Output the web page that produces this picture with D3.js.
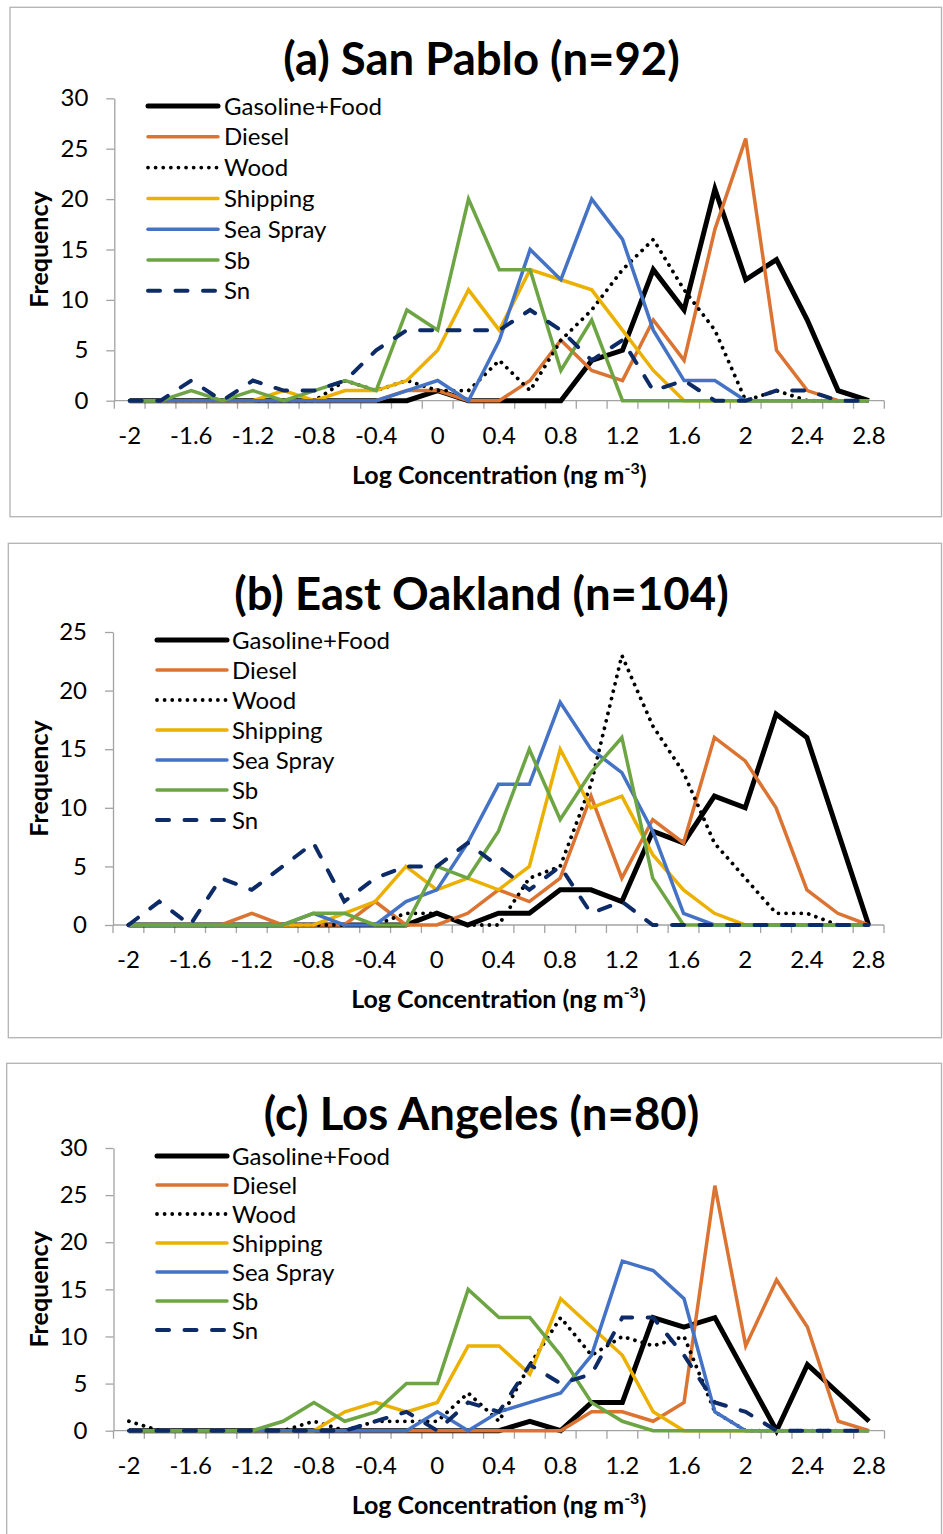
<!DOCTYPE html>
<html><head><meta charset="utf-8">
<script src="https://cdn.jsdelivr.net/npm/d3@7"></script>
<style>
body{margin:0;background:#fff}
svg{display:block}
text{font-family:Lato,"Open Sans",sans-serif;fill:#000}
</style>
</head><body>
<svg id="chart" width="943" height="1534"></svg>
<script>
// ---------- data ----------
const categories = ["-2","-1.8","-1.6","-1.4","-1.2","-1","-0.8","-0.6","-0.4","-0.2","0","0.2","0.4","0.6","0.8","1","1.2","1.4","1.6","1.8","2","2.2","2.4","2.6","2.8"];
const tickLabels = ["-2","-1.6","-1.2","-0.8","-0.4","0","0.4","0.8","1.2","1.6","2","2.4","2.8"];
const seriesNames = ["Gasoline+Food","Diesel","Wood","Shipping","Sea Spray","Sb","Sn"];
const panelTitles = ["(a) San Pablo (n=92)","(b) East Oakland (n=104)","(c) Los Angeles (n=80)"];
const yMaxes = [30, 25, 30];
const yTickStep = 5;

// (a) San Pablo
const sanPabloGasoline = [0,0,0,0,0,0,0,0,0,0,1,0,0,0,0,4,5,13,9,21,12,14,8,1,0];
const sanPabloDiesel   = [0,0,0,0,0,0,0,0,0,1,1,0,0,2,6,3,2,8,4,17,26,5,1,0,0];
const sanPabloWood     = [0,0,0,0,0,0,0,2,1,2,1,1,4,1,6,9,13,16,11,7,0,1,0,0,0];
const sanPabloShipping = [0,0,0,0,0,1,0,1,1,2,5,11,7,13,12,11,7,3,0,0,0,0,0,0,0];
const sanPabloSeaSpray = [0,0,0,0,0,0,0,0,0,1,2,0,6,15,12,20,16,7,2,2,0,0,0,0,0];
const sanPabloSb       = [0,0,1,0,1,0,1,2,1,9,7,20,13,13,3,8,0,0,0,0,0,0,0,0,0];
const sanPabloSn       = [0,0,2,0,2,1,1,2,5,7,7,7,7,9,7,4,6,1,2,0,0,1,1,0,0];

// (b) East Oakland
const eastOaklandGasoline = [0,0,0,0,0,0,0,0,0,0,1,0,1,1,3,3,2,8,7,11,10,18,16,8,0];
const eastOaklandDiesel   = [0,0,0,0,1,0,0,0,2,0,0,1,3,2,4,11,4,9,7,16,14,10,3,1,0];
const eastOaklandWood     = [0,0,0,0,0,0,0,0,0,1,1,0,0,4,5,12,23,17,13,7,4,1,1,0,0];
const eastOaklandShipping = [0,0,0,0,0,0,0,1,2,5,3,4,3,5,15,10,11,6,3,1,0,0,0,0,0];
const eastOaklandSeaSpray = [0,0,0,0,0,0,1,0,0,2,3,7,12,12,19,15,13,8,1,0,0,0,0,0,0];
const eastOaklandSb       = [0,0,0,0,0,0,1,1,0,0,5,4,8,15,9,13,16,4,0,0,0,0,0,0,0];
const eastOaklandSn       = [0,2,0,4,3,5,7,2,4,5,5,7,5,3,5,1,2,0,0,0,0,0,0,0,0];

// (c) Los Angeles
const losAngelesGasoline = [0,0,0,0,0,0,0,0,0,0,0,0,0,1,0,3,3,12,11,12,6,0,7,4,1];
const losAngelesDiesel   = [0,0,0,0,0,0,0,0,0,0,0,0,0,0,0,2,2,1,3,26,9,16,11,1,0];
const losAngelesWood     = [1,0,0,0,0,0,1,0,1,1,1,4,1,7,12,8,10,9,10,2,0,0,0,0,0];
const losAngelesShipping = [0,0,0,0,0,0,0,2,3,2,3,9,9,6,14,11,8,2,0,0,0,0,0,0,0];
const losAngelesSeaSpray = [0,0,0,0,0,0,0,0,0,0,2,0,2,3,4,8,18,17,14,2,0,0,0,0,0];
const losAngelesSb       = [0,0,0,0,0,1,3,1,2,5,5,15,12,12,8,3,1,0,0,0,0,0,0,0,0];
const losAngelesSn       = [0,0,0,0,0,0,0,0,1,2,0,3,2,7,5,6,12,12,8,3,2,0,0,0,0];

const panelSeries = [
  [sanPabloGasoline,sanPabloDiesel,sanPabloWood,sanPabloShipping,sanPabloSeaSpray,sanPabloSb,sanPabloSn],
  [eastOaklandGasoline,eastOaklandDiesel,eastOaklandWood,eastOaklandShipping,eastOaklandSeaSpray,eastOaklandSb,eastOaklandSn],
  [losAngelesGasoline,losAngelesDiesel,losAngelesWood,losAngelesShipping,losAngelesSeaSpray,losAngelesSb,losAngelesSn]
];

// ---------- styles & layout ----------
const styles = [
  {color:"#000000", width:5,   dash:null},
  {color:"#DB7432", width:3.5, dash:null},
  {color:"#000000", width:3.8, dash:"0.01 7.6", cap:"round"},
  {color:"#EBB000", width:3.5, dash:null},
  {color:"#4472C4", width:3.5, dash:null},
  {color:"#6DA544", width:3.5, dash:null},
  {color:"#0D2B66", width:4,   dash:"12 15.5", cap:"round"}
];

const layouts = [
  {box:[10,7.3,941.5,516.7], left:114.3, right:884.3, top:98.3, bottom:400.7, titleY:75,
   leg:{x1:148,x2:218,tx:224,y0:106,dy:30.8}},
  {box:[8.3,543.3,941.5,1037.7], left:113, right:884, top:632, bottom:925, titleY:610,
   leg:{x1:157,x2:227,tx:232,y0:640,dy:30}},
  {box:[6.7,1063.3,941.5,1545], left:113.5, right:884.5, top:1148, bottom:1430.7, titleY:1130,
   leg:{x1:157,x2:227,tx:232,y0:1156,dy:29}}
];

const svg = d3.select("#chart");
const axisColor = "#a3a3a3";

layouts.forEach((L, p) => {
  const g = svg.append("g");
  g.append("rect")
    .attr("x", L.box[0]).attr("y", L.box[1])
    .attr("width", L.box[2]-L.box[0]).attr("height", L.box[3]-L.box[1])
    .attr("fill","#fff").attr("stroke","#b3b3b3").attr("stroke-width",1.3);

  const x = d3.scaleBand().domain(categories).range([L.left, L.right]).padding(0);
  const cx = c => x(c) + x.bandwidth()/2;
  const y = d3.scaleLinear().domain([0, yMaxes[p]]).range([L.bottom, L.top]);

  g.append("text").attr("x", 481.5).attr("y", L.titleY).attr("text-anchor","middle")
    .attr("font-size", 45.5).attr("font-weight", 700).text(panelTitles[p]);

  const yAxis = d3.axisLeft(y).tickValues(d3.range(0, yMaxes[p]+1, yTickStep))
    .tickSize(8).tickPadding(18).tickSizeOuter(0);
  const ya = g.append("g").attr("transform", `translate(${L.left},0)`).call(yAxis);
  ya.select(".domain").attr("stroke", axisColor).attr("stroke-width",1.3);
  ya.selectAll(".tick line").attr("stroke", axisColor).attr("stroke-width",1.3);
  ya.selectAll(".tick text").attr("font-size",24).attr("font-family","Lato").attr("fill","#000");

  g.append("line").attr("x1", L.left).attr("x2", L.right).attr("y1", L.bottom).attr("y2", L.bottom)
    .attr("stroke", axisColor).attr("stroke-width",1.3);
  const bounds = categories.map(c => x(c)).concat([x(categories[categories.length-1]) + x.bandwidth()]);
  g.selectAll(".xt").data(bounds).join("line")
    .attr("x1", d=>d).attr("x2", d=>d).attr("y1", L.bottom).attr("y2", L.bottom+8)
    .attr("stroke", axisColor).attr("stroke-width",1.3);
  g.selectAll(".xl").data(tickLabels).join("text")
    .attr("x", d => cx(d)).attr("y", L.bottom + 43).attr("text-anchor","middle")
    .attr("font-size",24).text(d=>d);

  const t = g.append("text").attr("x", (L.left+L.right)/2).attr("y", L.bottom + 83)
    .attr("text-anchor","middle").attr("font-size",25).attr("font-weight",700);
  t.append("tspan").text("Log Concentration (ng m");
  t.append("tspan").attr("font-size",16).attr("dy",-10).text("-3");
  t.append("tspan").attr("dy",10).text(")");

  g.append("text").attr("transform", `translate(48,${(L.top+L.bottom)/2}) rotate(-90)`)
    .attr("text-anchor","middle").attr("font-size",25).attr("font-weight",700).text("Frequency");

  const line = d3.line().x((d,i)=>cx(categories[i])).y(d=>y(d));
  panelSeries[p].forEach((vals, s) => {
    const st = styles[s];
    g.append("path").datum(vals).attr("d", line)
      .attr("fill","none").attr("stroke", st.color).attr("stroke-width", st.width)
      .attr("stroke-linejoin","miter").attr("stroke-miterlimit",4)
      .attr("stroke-linecap", st.cap || "butt")
      .attr("stroke-dasharray", st.dash);
  });

  seriesNames.forEach((name, s) => {
    const st = styles[s];
    const ly = L.leg.y0 + s*L.leg.dy;
    g.append("line").attr("x1", L.leg.x1).attr("x2", L.leg.x2).attr("y1", ly).attr("y2", ly)
      .attr("stroke", st.color).attr("stroke-width", st.width)
      .attr("stroke-linecap", st.cap || "round").attr("stroke-dasharray", st.dash);
    g.append("text").attr("x", L.leg.tx).attr("y", ly + 8.5).attr("font-size",24).text(name);
  });
});
</script>
</body></html>
